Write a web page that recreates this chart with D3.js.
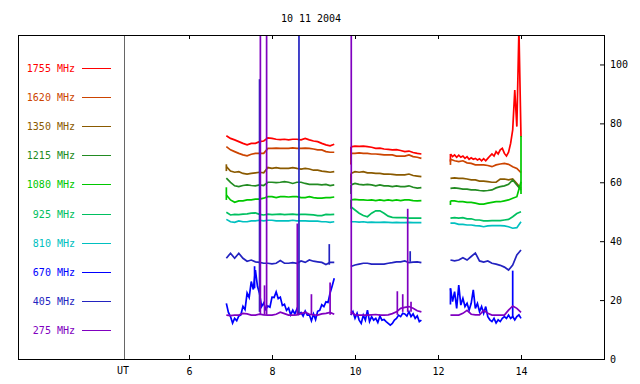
<!DOCTYPE html>
<html lang="en">
<head>
<meta charset="utf-8">
<title>10 11 2004</title>
<script src="https://cdn.jsdelivr.net/npm/d3@7"></script>
<style>
  body { margin: 0; background: #fff; }
  text { font-family: "DejaVu Sans Mono", monospace; font-size: 10px; }
</style>
</head>
<body>
<script>
// frequencies (legend order, top to bottom)
var freqs = [1755, 1620, 1350, 1215, 1080, 925, 810, 670, 405, 275];

// time ranges (UT hours) of the three observing runs
var segments = [[6.9, 9.5], [9.9, 11.6], [12.3, 14.0]];

var xTicks = [6, 8, 10, 12, 14];
var yTicks = [0, 20, 40, 60, 80, 100];

// flux per frequency, one array per run, evenly spaced over the run
var s1755 = [
  [75.8, 74.9, 74.4, 73.8, 73.2, 72.7, 73.2, 73.2, 73.8, 74.0, 75.1, 74.9, 74.6, 74.5, 74.6, 74.4, 74.6, 74.6, 74.4, 74.9, 74.4, 74.0, 73.8, 73.2, 72.7, 72.4, 72.9],
  [72.0, 72.3, 72.2, 72.3, 72.1, 71.9, 71.5, 71.6, 71.3, 71.2, 71.0, 71.1, 70.8, 70.4, 70.6, 70.1, 69.8, 69.6],
  [69.6, 68.7, 69.3, 68.5, 69.2, 68.5, 68.9, 68.1, 68.7, 67.8, 68.3, 67.8, 68.1, 67.6, 68.0, 67.3, 68.0, 67.3, 68.1, 68.9, 69.6, 68.9, 70.4, 69.6, 71.0, 71.5, 69.8, 68.9, 70.2, 73.2, 77.8, 91.3, 78.9, 112, 75.4]
];
var s1620 = [
  [72.1, 71.0, 70.4, 69.8, 69.3, 69.0, 69.5, 69.8, 69.8, 69.8, 71.5, 71.5, 71.6, 71.5, 71.5, 71.5, 71.7, 71.5, 71.5, 71.6, 71.5, 71.3, 71.0, 71.0, 70.4, 70.2, 70.2],
  [69.8, 69.8, 70.0, 69.8, 69.8, 69.6, 69.6, 69.5, 69.3, 69.3, 69.3, 68.9, 68.9, 68.9, 69.3, 68.7, 68.5, 68.1],
  [67.8, 67.3, 67.0, 67.3, 66.6, 66.4, 65.9, 65.9, 65.9, 65.7, 65.3, 65.9, 66.2, 66.4, 66.1, 65.3, 64.7, 63.3]
];
var s1350 = [
  [65.3, 63.8, 63.4, 63.6, 63.0, 62.8, 63.0, 63.2, 63.4, 63.2, 65.0, 64.7, 65.0, 64.7, 64.7, 64.7, 65.0, 64.7, 64.5, 64.7, 64.5, 64.1, 64.1, 63.8, 63.6, 63.4, 63.6],
  [63.0, 63.6, 63.4, 63.6, 63.2, 63.2, 63.0, 63.0, 62.8, 62.8, 62.7, 62.5, 62.5, 62.5, 62.8, 62.3, 62.1, 61.9],
  [61.3, 61.5, 61.3, 61.3, 61.1, 60.8, 60.8, 60.4, 60.4, 60.2, 60.0, 60.0, 61.1, 61.1, 60.8, 61.1, 59.6, 57.9]
];
var s1215 = [
  [61.4, 60.0, 58.8, 58.5, 58.9, 59.1, 58.9, 58.8, 59.1, 58.9, 60.0, 60.0, 59.9, 60.0, 60.2, 60.0, 59.6, 60.0, 60.0, 59.6, 59.3, 59.3, 59.3, 59.1, 59.3, 58.9, 59.1],
  [59.1, 59.6, 59.3, 59.1, 59.3, 59.1, 58.8, 59.1, 58.8, 58.8, 58.5, 58.8, 58.5, 58.5, 58.8, 58.3, 58.0, 58.2],
  [57.9, 58.1, 57.9, 57.7, 57.7, 57.4, 57.4, 57.2, 57.1, 57.2, 57.4, 58.1, 58.5, 58.8, 59.3, 60.8, 59.1, 57.4]
];
var s1080 = [
  [55.7, 54.0, 53.2, 53.7, 53.7, 54.0, 54.0, 54.3, 54.3, 54.6, 55.1, 55.1, 54.8, 55.1, 55.1, 55.0, 55.1, 55.1, 54.8, 54.8, 55.1, 54.8, 54.6, 54.6, 54.8, 54.8, 55.0],
  [54.0, 54.2, 54.0, 54.0, 53.9, 54.0, 53.8, 54.0, 53.8, 54.0, 53.8, 54.0, 53.8, 54.0, 54.0, 53.8, 53.7, 53.8],
  [53.7, 53.7, 53.4, 53.4, 53.2, 53.2, 52.9, 52.6, 52.6, 52.9, 53.2, 53.4, 53.4, 53.7, 54.0, 54.6, 55.1, 60.2]
];
var s925 = [
  [49.8, 48.9, 49.1, 49.0, 49.2, 49.3, 49.5, 49.6, 49.1, 48.9, 49.2, 49.0, 49.1, 49.2, 49.0, 49.1, 49.2, 49.0, 49.1, 49.1, 49.0, 48.9, 48.7, 48.7, 49.1, 49.0, 49.1],
  [51.7, 50.6, 49.5, 48.7, 48.3, 49.5, 50.3, 50.3, 49.5, 48.5, 48.1, 48.0, 48.0, 48.0, 47.8, 47.8, 47.8, 47.8],
  [47.8, 48.0, 47.8, 48.0, 47.6, 47.6, 47.2, 47.2, 46.9, 46.9, 47.0, 47.0, 47.0, 47.2, 47.4, 48.3, 49.4, 50.0]
];
var s810 = [
  [47.4, 46.6, 46.4, 46.9, 46.6, 46.6, 46.9, 46.9, 47.1, 46.9, 47.1, 47.1, 46.9, 46.9, 46.9, 46.9, 47.1, 46.9, 46.9, 46.9, 46.8, 46.8, 46.8, 46.6, 46.6, 46.4, 46.6],
  [46.6, 46.6, 46.5, 46.6, 46.4, 46.5, 46.4, 46.4, 46.5, 46.4, 46.3, 46.4, 46.3, 46.3, 46.4, 46.3, 46.3, 46.3],
  [46.1, 46.1, 45.7, 45.7, 45.5, 45.5, 45.3, 45.2, 44.9, 45.2, 45.3, 45.3, 45.3, 45.2, 44.9, 44.4, 44.6, 46.6]
];
var s670 = [
  [18.9, 15.8, 14.4, 12.2, 13.8, 13.0, 14.6, 15.0, 17.9, 16.8, 22.4, 20.9, 26.3, 23.6, 30.2, 24.7, 22.2, 17.8, 19.0, 16.9, 18.0, 17.6, 21.0, 20.9, 22.8, 20.5, 21.0, 18.2, 18.6, 16.5, 17.3, 15.0, 16.6, 15.3, 17.0, 15.2, 15.8, 14.6, 16.3, 14.9, 15.0, 13.0, 15.3, 13.4, 16.2, 16.5, 18.4, 17.8, 19.4, 19.2, 22.4, 24.8, 27.4],
  [14.9, 16.1, 13.8, 15.5, 13.2, 12.1, 14.9, 13.2, 16.6, 12.7, 14.4, 13.2, 13.8, 12.4, 14.6, 13.2, 13.4, 12.7, 12.1, 11.5, 12.1, 13.2, 13.8, 14.9, 14.4, 15.5, 15.3, 14.6, 16.1, 14.4, 15.3, 13.8, 14.6, 12.7, 13.2],
  [24.0, 19.5, 22.9, 17.2, 25.1, 18.3, 20.6, 17.8, 18.9, 16.6, 18.9, 23.5, 17.2, 18.9, 16.1, 17.8, 15.5, 17.8, 14.4, 13.3, 12.7, 13.8, 12.2, 13.3, 12.7, 13.8, 14.4, 13.8, 14.9, 13.8, 14.4, 13.3, 14.4, 15.0, 13.8]
];
var s405 = [
  [34.2, 35.9, 34.2, 35.9, 34.2, 33.2, 33.6, 33.0, 32.8, 32.5, 32.5, 32.3, 32.5, 33.4, 32.5, 32.5, 32.7, 32.5, 33.3, 32.8, 33.6, 33.2, 33.0, 32.8, 32.1, 32.8, 32.8],
  [31.4, 31.9, 32.2, 32.5, 32.5, 32.2, 32.2, 32.2, 32.2, 32.5, 32.7, 33.0, 33.0, 33.3, 32.7, 32.9, 33.0, 32.7],
  [33.6, 33.3, 33.6, 34.4, 33.6, 34.8, 36.0, 33.3, 32.9, 33.3, 32.5, 32.2, 31.8, 31.2, 30.2, 31.9, 35.3, 37.0]
];
var s275 = [
  [14.9, 14.7, 14.9, 14.9, 15.5, 15.3, 14.9, 14.9, 15.2, 15.0, 14.9, 14.9, 15.2, 15.9, 15.4, 14.9, 14.9, 15.0, 15.4, 15.9, 15.2, 15.0, 14.9, 15.3, 15.5, 15.8, 15.2],
  [16.0, 15.0, 14.9, 14.9, 14.9, 15.0, 15.1, 14.9, 14.9, 15.0, 15.4, 16.0, 17.2, 17.5, 17.8, 17.2, 16.4, 16.0],
  [14.9, 14.9, 14.9, 15.5, 16.5, 15.2, 15.0, 15.0, 16.5, 15.5, 14.9, 14.9, 14.9, 14.9, 16.6, 18.0, 17.2, 15.8]
];

// single-sample bursts: [frequency, UT hour, low, high]
var spikes = [
  [1350, 6.9, 63.8, 66.1], [1080, 6.9, 54.0, 58.3],
  [670, 7.58, 24, 31.5],
  [405, 7.70, 16, 95], [275, 7.72, 15, 115], [275, 7.82, 15, 25], [275, 7.87, 15, 115],
  [275, 8.61, 15, 46], [405, 8.65, 15, 115], [275, 8.95, 15, 22],
  [405, 9.38, 32, 39], [275, 9.40, 15, 26],
  [1755, 9.9, 66, 72], [1620, 9.9, 66.4, 69.8], [1350, 9.9, 59.5, 63], [1215, 9.9, 56, 59.1], [1080, 9.9, 51, 54],
  [275, 9.91, 15, 115],
  [275, 11.02, 15, 23], [275, 11.15, 16, 22], [275, 11.27, 16, 51], [275, 11.35, 16, 19.4], [405, 11.33, 33, 36.6],
  [1755, 12.3, 67.0, 69.6], [1620, 12.3, 65.9, 67.8], [1080, 12.3, 52.3, 53.7], [670, 12.3, 18.5, 24],
  [670, 13.80, 14, 30], [1080, 14.0, 56, 75.7]
];

var seriesData = [s1755, s1620, s1350, s1215, s1080, s925, s810, s670, s405, s275];
var colors = ["#ff0000", "#cc4400", "#8a5a00", "#228b22", "#00c800", "#00c060", "#00c0c0", "#0000ff", "#2323c0", "#8000c0"];

var width = 640, height = 384;
var plotL = 18, plotR = 604, plotT = 35, plotB = 359;

var x = d3.scaleLinear().domain([6, 14]).range([189, 521]);
var y = d3.scaleLinear().domain([0, 110]).range([plotB, plotT]);

var svg = d3.select("body").append("svg")
  .attr("width", width)
  .attr("height", height);

svg.append("defs").append("clipPath").attr("id", "clip")
  .append("rect")
  .attr("x", plotL).attr("y", plotT)
  .attr("width", plotR - plotL).attr("height", plotB - plotT);

// title
svg.append("text")
  .attr("x", 311).attr("y", 22)
  .attr("text-anchor", "middle")
  .attr("fill", "#000")
  .text("10 11 2004");

// separator between legend and time axis
svg.append("line")
  .attr("x1", 124.5).attr("x2", 124.5)
  .attr("y1", plotT).attr("y2", plotB)
  .attr("stroke", "#666").attr("stroke-width", 1);

// data
var line = d3.line()
  .x(function(d) { return x(d[0]); })
  .y(function(d) { return y(d[1]); });

var dataG = svg.append("g").attr("clip-path", "url(#clip)");

freqs.forEach(function(f, i) {
  var g = dataG.append("g");
  seriesData[i].forEach(function(vals, k) {
    var t0 = segments[k][0], t1 = segments[k][1];
    var pts = vals.map(function(v, j) {
      return [t0 + j * (t1 - t0) / (vals.length - 1), v];
    });
    g.append("path")
      .attr("d", line(pts))
      .attr("fill", "none")
      .attr("stroke", colors[i])
      .attr("stroke-width", 1.7);
  });
  g.selectAll("line.spike")
    .data(spikes.filter(function(s) { return s[0] === f; }))
    .enter().append("line")
    .attr("class", "spike")
    .attr("x1", function(s) { return x(s[1]); })
    .attr("x2", function(s) { return x(s[1]); })
    .attr("y1", function(s) { return y(s[2]); })
    .attr("y2", function(s) { return y(s[3]); })
    .attr("stroke", colors[i])
    .attr("stroke-width", 1.7);
});

// legend
var leg = svg.selectAll(".leg")
  .data(freqs)
  .enter().append("g")
  .attr("class", "leg")
  .attr("transform", function(d, i) { return "translate(0," + Math.round(68 + i * 29.1) + ")"; });

leg.append("text")
  .attr("x", 75).attr("dy", "0.35em")
  .attr("text-anchor", "end")
  .attr("fill", function(d, i) { return colors[i]; })
  .text(function(d) { return d + " MHz"; });

leg.append("line")
  .attr("x1", 82).attr("x2", 111)
  .attr("y1", 0.5).attr("y2", 0.5)
  .attr("stroke", function(d, i) { return colors[i]; })
  .attr("stroke-width", 1);

// axes
var bottom = svg.append("g")
  .attr("transform", "translate(0," + plotB + ")")
  .call(d3.axisBottom(x).tickValues(xTicks).tickSize(-4).tickPadding(9).tickFormat(d3.format("d")));

var top = svg.append("g")
  .attr("transform", "translate(0," + plotT + ")")
  .call(d3.axisTop(x).tickValues(xTicks).tickSize(-4).tickFormat(""));

var right = svg.append("g")
  .attr("transform", "translate(" + plotR + ",0)")
  .call(d3.axisRight(y).tickValues(yTicks).tickSize(-4).tickPadding(6));

svg.selectAll(".domain").remove();
svg.selectAll(".tick line").attr("stroke", "#000");
svg.selectAll(".tick text")
  .attr("fill", "#000")
  .style("font-family", "DejaVu Sans Mono, monospace")
  .style("font-size", "10px");

svg.append("text")
  .attr("x", 123).attr("y", 374)
  .attr("text-anchor", "middle")
  .attr("fill", "#000")
  .text("UT");

// frame
svg.append("rect")
  .attr("x", plotL + 0.5).attr("y", plotT + 0.5)
  .attr("width", plotR - plotL).attr("height", plotB - plotT)
  .attr("fill", "none")
  .attr("stroke", "#000")
  .attr("stroke-width", 1);
</script>
</body>
</html>
